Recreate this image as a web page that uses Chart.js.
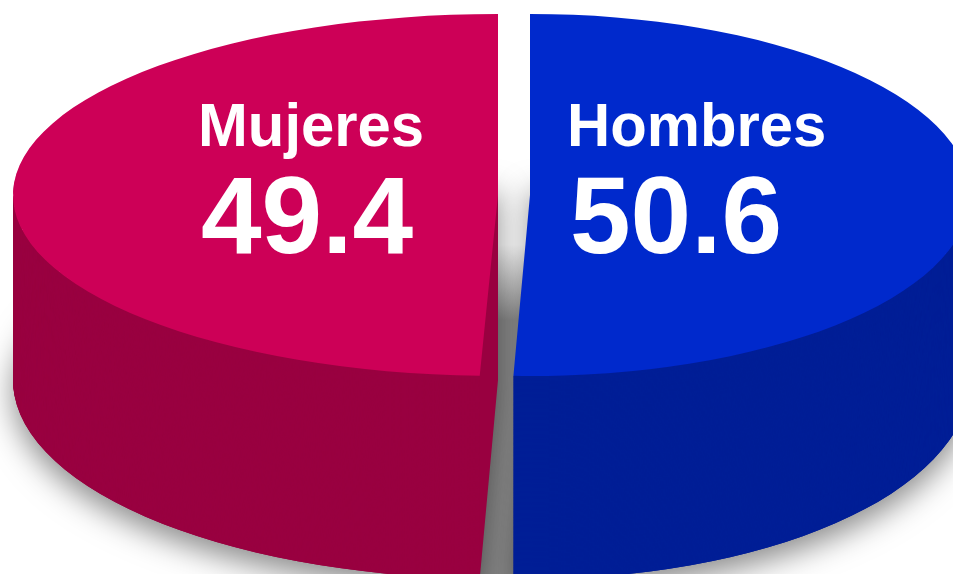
<!DOCTYPE html>
<html>
<head>
<meta charset="utf-8">
<style>
  html, body { margin: 0; padding: 0; background: #fff; }
  #wrap { width: 953px; height: 574px; position: relative; }
</style>
<script src="https://cdn.jsdelivr.net/npm/chart.js@4.4.1/dist/chart.umd.min.js"></script>
</head>
<body>
<div id="wrap"><canvas id="pie"></canvas></div>
<script>
const categories = ['Hombres', 'Mujeres'];
const shares = [50.6, 49.4];
const topColors = ['#0029CC', '#CD0057'];
const sideColors = ['#001E96', '#990040'];

// cylinder geometry (screen px)
const CX = 514;
const TOP_Y = 195;
const TOP_RY = 181;
const BOT_Y = 380;
const BOT_RY = 199;
const RX_RIGHT = 440;
const RX_LEFT = 485;
const EXPLODE = 16;
const LAYERS = 185;

const isRight = (arc) => Math.cos((arc.startAngle + arc.endAngle) / 2) >= 0;

// map the library's circle onto the tilted ellipse for one layer
const placeArc = (ctx, arc, cy, ry) => {
  const right = isRight(arc);
  const rx = right ? RX_RIGHT : RX_LEFT;
  const shift = right ? EXPLODE : -EXPLODE;
  const sx = rx / arc.outerRadius;
  const sy = ry / arc.outerRadius;
  ctx.setTransform(sx, 0, 0, sy, CX + shift - arc.x * sx, cy - arc.y * sy);
};

const drawWith = (ctx, arc, color) => {
  const own = arc.options;
  arc.options = { ...own, backgroundColor: color };
  arc.draw(ctx);
  arc.options = own;
};

// boundary point of a slice on the top ellipse (front = lowest, back = highest)
const edgePoint = (arc, front) => {
  const right = isRight(arc);
  const rx = right ? RX_RIGHT : RX_LEFT;
  const shift = right ? EXPLODE : -EXPLODE;
  const a = [arc.startAngle, arc.endAngle].sort((p, q) => (front ? Math.sin(q) - Math.sin(p) : Math.sin(p) - Math.sin(q)))[0];
  return { x: CX + shift + rx * Math.cos(a), y: TOP_Y + TOP_RY * Math.sin(a) };
};

const cylinder = {
  id: 'cylinder',
  beforeDatasetsDraw(chart) {
    const { ctx } = chart;
    const arcs = chart.getDatasetMeta(0).data;
    const H = chart.height;
    const W = chart.width;

    ctx.save();

    // shadowed gap between the slices
    ctx.setTransform(1, 0, 0, 1, 0, 0);
    const xs = [];
    arcs.forEach((arc) => {
      xs.push(edgePoint(arc, true).x, edgePoint(arc, false).x);
    });
    const gx0 = Math.min(...xs) - 2;
    const gx1 = Math.max(...xs) + 2;
    const grad = ctx.createLinearGradient(0, 245, 0, 320);
    grad.addColorStop(0, '#ffffff');
    grad.addColorStop(1, '#8a8a8a');
    ctx.fillStyle = grad;
    ctx.fillRect(gx0, TOP_Y - TOP_RY + 6, gx1 - gx0, H);

    // drop shadow under the base
    arcs.forEach((arc, i) => {
      ctx.save();
      placeArc(ctx, arc, BOT_Y, BOT_RY);
      ctx.shadowColor = 'rgba(0, 0, 0, 0.45)';
      ctx.shadowBlur = 30;
      ctx.shadowOffsetY = 12;
      drawWith(ctx, arc, sideColors[i]);
      ctx.restore();
    });

    // side walls, stacked from the base upward
    arcs.forEach((arc, i) => {
      const right = isRight(arc);
      const rx = right ? RX_RIGHT : RX_LEFT;
      const shift = right ? EXPLODE : -EXPLODE;
      const corner = edgePoint(arc, true);
      ctx.save();
      ctx.setTransform(1, 0, 0, 1, 0, 0);
      ctx.beginPath();
      if (right) ctx.rect(corner.x, 0, W - corner.x, H);
      else ctx.rect(0, 0, corner.x, H);
      ctx.clip();
      ctx.beginPath();
      ctx.rect(0, 0, W, H);
      ctx.ellipse(CX + shift, TOP_Y, rx, TOP_RY, 0, 0, Math.PI * 2);
      ctx.clip('evenodd');
      for (let k = LAYERS; k >= 1; k -= 1) {
        const t = k / LAYERS;
        placeArc(ctx, arc, TOP_Y + (BOT_Y - TOP_Y) * t, TOP_RY + (BOT_RY - TOP_RY) * t);
        drawWith(ctx, arc, sideColors[i]);
      }
      ctx.restore();
    });

    // top faces
    arcs.forEach((arc) => {
      placeArc(ctx, arc, TOP_Y, TOP_RY);
      arc.draw(ctx);
    });

    ctx.restore();
    return false;
  },
  afterDraw(chart) {
    const { ctx } = chart;
    const arcs = chart.getDatasetMeta(0).data;
    ctx.save();
    ctx.fillStyle = '#ffffff';
    ctx.textAlign = 'left';
    ctx.textBaseline = 'alphabetic';
    arcs.forEach((arc, i) => {
      const right = isRight(arc);
      const x = right ? CX + 53 : CX - 316;
      ctx.save();
      ctx.translate(x, 146);
      ctx.scale(0.965, 1);
      ctx.font = 'bold 62px "Liberation Sans", Arial, sans-serif';
      ctx.fillText(categories[i], 0, 0);
      ctx.restore();
      ctx.font = 'bold 109px "Liberation Sans", Arial, sans-serif';
      ctx.fillText(shares[i].toFixed(1), x + 3, 253);
    });
    ctx.restore();
  },
};

new Chart(document.getElementById('pie'), {
  type: 'pie',
  data: {
    labels: categories,
    datasets: [
      {
        data: shares,
        backgroundColor: topColors,
        borderWidth: 0,
        hoverOffset: 0,
      },
    ],
  },
  options: {
    responsive: true,
    maintainAspectRatio: false,
    animation: false,
    events: [],
    rotation: 0,
    layout: { padding: 0 },
    plugins: {
      legend: { display: false },
      tooltip: { enabled: false },
    },
  },
  plugins: [cylinder],
});
</script>
</body>
</html>
